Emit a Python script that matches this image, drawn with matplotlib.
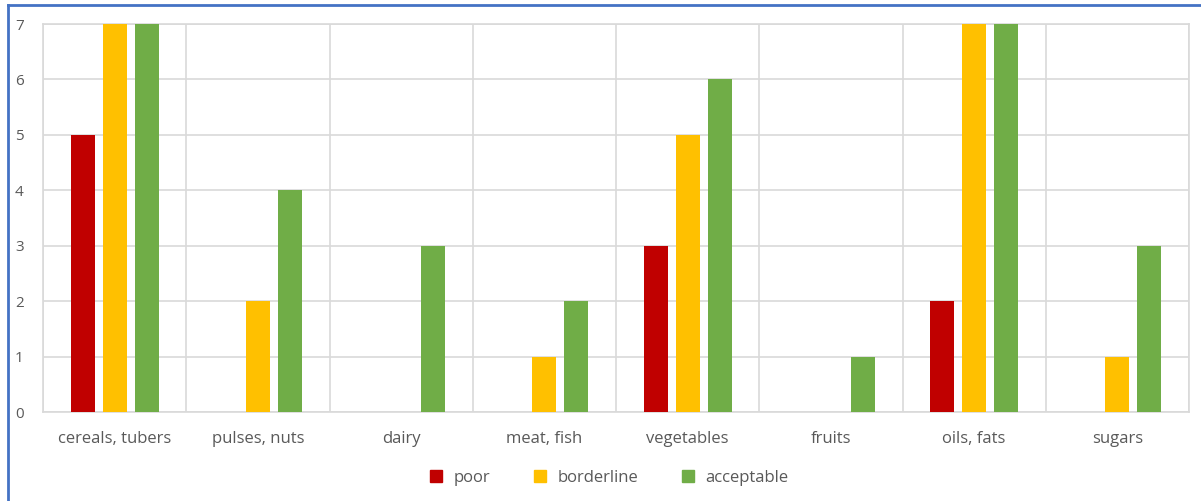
import numpy as np
import matplotlib
matplotlib.use("Agg")
import matplotlib.pyplot as plt
from matplotlib.lines import Line2D

categories = ["cereals, tubers", "pulses, nuts", "dairy", "meat, fish",
              "vegetables", "fruits", "oils, fats", "sugars"]
poor = [5, 0, 0, 0, 3, 0, 2, 0]
borderline = [7, 2, 0, 1, 5, 0, 7, 1]
acceptable = [7, 4, 3, 2, 6, 1, 7, 3]
series_names = ["poor", "borderline", "acceptable"]

c_poor = '#C00000'
c_border = '#FFC000'
c_accept = '#70AD47'
grid_gray = '#D9D9D9'
text_gray = '#595959'

plt.rcParams['font.family'] = ['Open Sans', 'DejaVu Sans']

fig = plt.figure(figsize=(12.01, 5.01), dpi=100)
ax = fig.add_axes([43/1201, 1-412/501, (1189-43)/1201, (412-24)/501])

x = np.arange(len(categories))
w = 0.168
off = 0.223
for vals, col, dx, name in [(poor, c_poor, -off, series_names[0]),
                            (borderline, c_border, 0, series_names[1]),
                            (acceptable, c_accept, off, series_names[2])]:
    ax.bar(x + dx, vals, width=w, color=col, label=name, zorder=3)

ax.set_xlim(-0.5, len(categories) - 0.5)
ax.set_ylim(0, 7)
ax.set_yticks(range(8))
ax.set_xticks(x)
ax.set_xticklabels(categories, fontsize=12)
# category separators
ax.set_xticks(np.arange(-0.5, len(categories)), minor=True)
ax.grid(True, axis='y', color=grid_gray, lw=1.2, zorder=0)
ax.grid(True, axis='x', which='minor', color=grid_gray, lw=1.2, zorder=0)
ax.tick_params(axis='both', which='both', length=0, colors=text_gray)
ax.tick_params(axis='y', labelsize=11, pad=14)
ax.tick_params(axis='x', pad=14)
for s in ax.spines.values():
    s.set_color(grid_gray)
    s.set_linewidth(1.2)

handles = [Line2D([], [], marker='s', ls='', color=c, markersize=8)
           for c in (c_poor, c_border, c_accept)]
fig.legend(handles, series_names, loc='center', bbox_to_anchor=(604/1201, 1-478/501),
           ncol=3, frameon=False, fontsize=12, labelcolor=text_gray,
           handletextpad=0.05, columnspacing=2.0)

# blue frame (left and top edges visible)
fig.add_artist(Line2D([8/1201, 8/1201], [0, 1-5/501], color='#4472C4', lw=2,
                      transform=fig.transFigure))
fig.add_artist(Line2D([8/1201, 1], [1-5/501, 1-5/501], color='#4472C4', lw=2,
                      transform=fig.transFigure))

fig.savefig("out.png", dpi=100)
